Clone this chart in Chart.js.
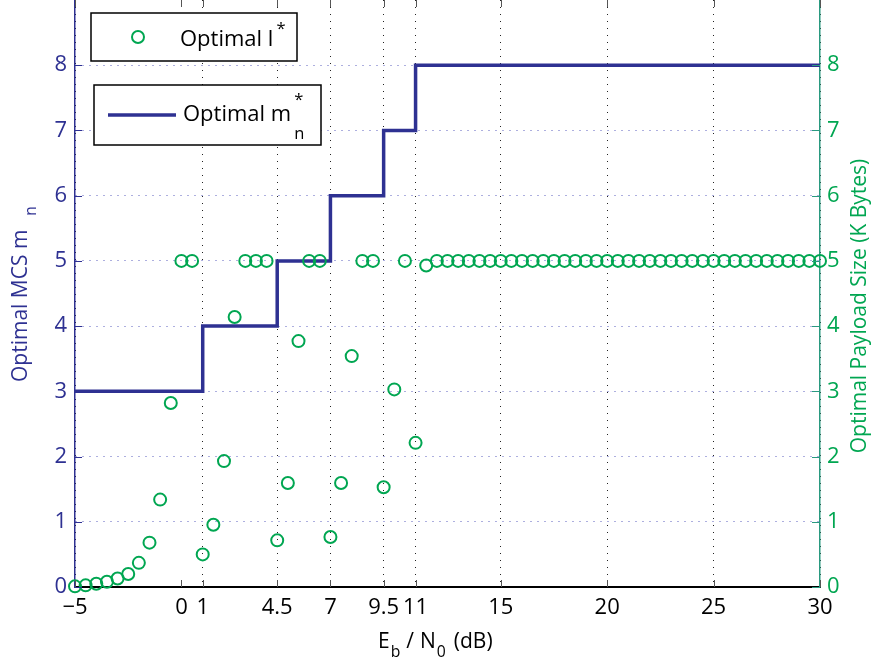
<!DOCTYPE html>
<html>
<head>
<meta charset="utf-8">
<script src="https://cdn.jsdelivr.net/npm/chart.js@4.4.0/dist/chart.umd.min.js"></script>
<style>
  html, body { margin: 0; padding: 0; background: #fff; }
  #wrap { width: 874px; height: 664px; }
</style>
</head>
<body>
<div id="wrap"><canvas id="chart" width="874" height="664"></canvas></div>
<script>
// Eb/N0 values (dB) where the optimal payload was evaluated
const snrDb = [
  -5, -4.5, -4, -3.5, -3, -2.5, -2, -1.5, -1, -0.5,
  0, 0.5, 1, 1.5, 2, 2.5, 3, 3.5, 4, 4.5,
  5, 5.5, 6, 6.5, 7, 7.5, 8, 8.5, 9, 9.5,
  10, 10.5, 11, 11.5, 12, 12.5, 13, 13.5, 14, 14.5,
  15, 15.5, 16, 16.5, 17, 17.5, 18, 18.5, 19, 19.5,
  20, 20.5, 21, 21.5, 22, 22.5, 23, 23.5, 24, 24.5,
  25, 25.5, 26, 26.5, 27, 27.5, 28, 28.5, 29, 29.5, 30
];
// optimal payload l* (K Bytes), right axis
const payloadKB = [
  0.01, 0.025, 0.05, 0.08, 0.13, 0.2, 0.37, 0.68, 1.34, 2.82,
  5, 5, 0.5, 0.955, 1.93, 4.14, 5, 5, 5, 0.715,
  1.595, 3.77, 5, 5, 0.767, 1.595, 3.54, 5, 5, 1.53,
  3.03, 5, 2.21, 4.93, 5, 5, 5, 5, 5, 5,
  5, 5, 5, 5, 5, 5, 5, 5, 5, 5,
  5, 5, 5, 5, 5, 5, 5, 5, 5, 5,
  5, 5, 5, 5, 5, 5, 5, 5, 5, 5, 5
];
// optimal MCS m*_n, left axis (step changes)
const mcsSnr = [-5, 1, 4.5, 7, 9.5, 11, 30];
const mcsLevel = [3, 4, 5, 6, 7, 8, 8];

const xTickValues = [-5, 0, 1, 4.5, 7, 9.5, 11, 15, 20, 25, 30];
const yTickValues = [0, 1, 2, 3, 4, 5, 6, 7, 8];

const BLUE = "#2e3192";
const GREEN = "#00a651";
const TEAL = "#2a9a80";
const FONT = "'Open Sans', sans-serif";

// draws text runs with sub/superscripts, returns end x
function drawRuns(ctx, runs, x, y, size) {
  runs.forEach(r => {
    const s = r.mode ? size * 0.75 : size;
    ctx.font = s + "px " + FONT;
    let dy = 0;
    if (r.mode === "sub") dy = size * 0.45;
    if (r.mode === "sup") dy = -size * 0.55;
    ctx.fillText(r.t, x, y + dy);
    x += ctx.measureText(r.t).width + (r.gap || 0);
  });
  return x;
}
function runsWidth(ctx, runs, size) {
  let w = 0;
  runs.forEach(r => {
    ctx.font = (r.mode ? size * 0.75 : size) + "px " + FONT;
    w += ctx.measureText(r.t).width + (r.gap || 0);
  });
  return w;
}

function noPad(s) {
  s.paddingTop = 0; s.paddingBottom = 0; s.paddingLeft = 0; s.paddingRight = 0;
}

const decorPlugin = {
  id: "decor",
  afterDraw(chart) {
    const ctx = chart.ctx;
    const a = chart.chartArea;
    const xs = chart.scales.x, yl = chart.scales.y, yr = chart.scales.y2;
    ctx.save();

    // inward tick marks
    ctx.lineWidth = 1;
    ctx.strokeStyle = "#555";
    xTickValues.forEach(v => {
      const px = Math.round(xs.getPixelForValue(v)) + 0.5;
      ctx.beginPath();
      ctx.moveTo(px, a.bottom); ctx.lineTo(px, a.bottom - 7);
      ctx.moveTo(px, a.top); ctx.lineTo(px, a.top + 7);
      ctx.stroke();
    });
    yTickValues.forEach(v => {
      const py = Math.round(yl.getPixelForValue(v)) + 0.5;
      ctx.strokeStyle = BLUE;
      ctx.beginPath(); ctx.moveTo(a.left, py); ctx.lineTo(a.left + 7, py); ctx.stroke();
      const py2 = Math.round(yr.getPixelForValue(v)) + 0.5;
      ctx.strokeStyle = TEAL;
      ctx.beginPath(); ctx.moveTo(a.right, py2); ctx.lineTo(a.right - 8, py2); ctx.stroke();
    });

    // axis titles
    const size = 21;
    ctx.textBaseline = "alphabetic";
    ctx.fillStyle = "#000";
    const xTitle = [{ t: "E", gap: 1 }, { t: "b", mode: "sub", gap: 6 }, { t: "/", gap: 6 }, { t: "N", gap: 1 },
                    { t: "0", mode: "sub", gap: 8 }, { t: "(dB)" }];
    drawRuns(ctx, xTitle, 378, 648, size);

    const lTitle = [{ t: "Optimal MCS m", gap: 14 }, { t: "n", mode: "sub" }];
    ctx.save();
    ctx.translate(27, 294);
    ctx.rotate(-Math.PI / 2);
    ctx.fillStyle = BLUE;
    const lw = runsWidth(ctx, lTitle, size);
    drawRuns(ctx, lTitle, -lw / 2, 0, size);
    ctx.restore();

    const rTitle = [{ t: "Optimal Payload Size (K Bytes)" }];
    ctx.save();
    ctx.translate(866, 306);
    ctx.rotate(-Math.PI / 2);
    ctx.fillStyle = GREEN;
    const rw = runsWidth(ctx, rTitle, size);
    drawRuns(ctx, rTitle, -rw / 2, 0, size);
    ctx.restore();

    // legend boxes
    const ls = 22;
    ctx.lineWidth = 1.5;
    ctx.strokeStyle = "#000";
    ctx.fillStyle = "#fff";
    ctx.fillRect(91, 13, 206, 48);
    ctx.strokeRect(91, 13, 206, 48);
    ctx.fillRect(94, 85, 227, 60);
    ctx.strokeRect(94, 85, 227, 60);

    ctx.strokeStyle = GREEN;
    ctx.lineWidth = 2;
    ctx.beginPath(); ctx.arc(138, 37, 6, 0, Math.PI * 2); ctx.stroke();
    ctx.fillStyle = "#000";
    drawRuns(ctx, [{ t: "Optimal l", gap: 3 }, { t: "*", mode: "sup" }], 180, 46, ls);

    ctx.strokeStyle = BLUE;
    ctx.lineWidth = 3.5;
    ctx.beginPath(); ctx.moveTo(108, 115); ctx.lineTo(176, 115); ctx.stroke();
    ctx.fillStyle = "#000";
    const endX = drawRuns(ctx, [{ t: "Optimal m", gap: 3 }], 183, 121, ls);
    ctx.font = (ls * 0.75) + "px " + FONT;
    ctx.fillText("*", endX, 105);
    ctx.fillText("n", endX, 139);

    ctx.restore();
  }
};

function buildChart() {
  const ctx = document.getElementById("chart").getContext("2d");
  const tickFont = { family: FONT, size: 22 };

  new Chart(ctx, {
    type: "line",
    data: {
      datasets: [
        {
          label: "Optimal l*",
          data: snrDb.map((x, i) => ({ x: x, y: payloadKB[i] })),
          yAxisID: "y2",
          showLine: false,
          pointStyle: "circle",
          pointRadius: 6,
          pointBorderWidth: 2,
          pointBorderColor: GREEN,
          pointBackgroundColor: "rgba(0,0,0,0)",
          clip: false
        },
        {
          label: "Optimal m*n",
          data: mcsSnr.map((x, i) => ({ x: x, y: mcsLevel[i] })),
          yAxisID: "y",
          stepped: true,
          borderColor: BLUE,
          borderWidth: 3.5,
          pointRadius: 0,
          fill: false,
          clip: false
        }
      ]
    },
    options: {
      responsive: false,
      animation: false,
      layout: { padding: 0, autoPadding: false },
      plugins: { legend: { display: false }, tooltip: { enabled: false } },
      scales: {
        x: {
          type: "linear",
          min: -5, max: 30,
          afterBuildTicks: s => { s.ticks = xTickValues.map(v => ({ value: v })); },
          afterFit: s => { s.height = 77; noPad(s); },
          ticks: {
            font: tickFont, color: "#000", padding: 8, autoSkip: false, maxRotation: 0,
            callback: v => (v < 0 ? "\u2212" + Math.abs(v) : String(v))
          },
          grid: {
            drawTicks: false,
            lineWidth: 1,
            color: c => (c.tick && c.tick.value === 0 ? "rgba(0,0,0,0)" : "#222")
          },
          border: { display: true, color: "#000", width: 2, dash: [1, 6] }
        },
        y: {
          position: "left",
          min: 0, max: 9,
          afterBuildTicks: s => { s.ticks = yTickValues.map(v => ({ value: v })); },
          afterFit: s => { s.width = 75; noPad(s); },
          ticks: { font: tickFont, color: BLUE, padding: 8 },
          grid: { drawTicks: false, lineWidth: 1, color: "#5a5fbe" },
          border: { display: true, color: BLUE, width: 1.5, dash: [1, 6] }
        },
        y2: {
          position: "right",
          min: 0, max: 9,
          afterBuildTicks: s => { s.ticks = yTickValues.map(v => ({ value: v })); },
          afterFit: s => { s.width = 54; noPad(s); },
          ticks: { font: tickFont, color: GREEN, padding: 7 },
          grid: { drawOnChartArea: false, drawTicks: false },
          border: { display: true, color: TEAL, width: 1.5 }
        }
      }
    },
    plugins: [decorPlugin]
  });
}

document.addEventListener("DOMContentLoaded", buildChart);
</script>
</body>
</html>
